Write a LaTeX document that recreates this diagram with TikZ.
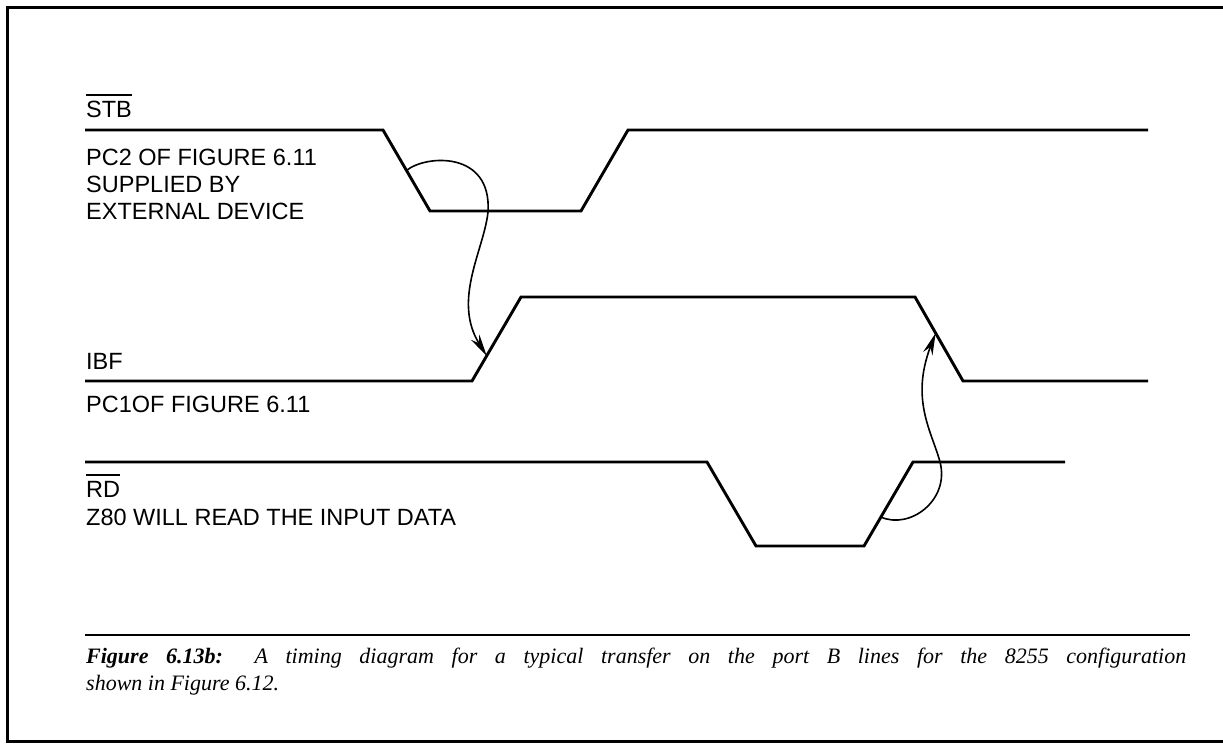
\documentclass[tikz,border=0pt]{standalone}
\usepackage{fontspec}
\setmainfont{Liberation Serif}
\newfontfamily\labfont{Liberation Sans}
\usetikzlibrary{arrows.meta,calc}
\newcommand\ovl[1]{\vbox{\hrule height 1.4pt\kern 5pt\hbox{#1}}}
\begin{document}
\begin{tikzpicture}[x=1pt,y=-1pt,
  sig/.style={line width=2.9pt, line join=miter},
  lbl/.style={font=\labfont\fontsize{23.5}{27}\selectfont, inner sep=0pt, anchor=base west},
  captxt/.style={font=\itshape\fontsize{22}{27}\selectfont, inner sep=0pt, anchor=base west},
  arr/.style={line width=1.6pt, -{Stealth[length=22pt,width=10pt]}}]
\useasboundingbox (0,0) rectangle (1223,744);
\fill[white] (0,0) rectangle (1223,744);
% frame
\draw[line width=3pt] (1223,7) -- (7,7) -- (7,741) -- (1223,741);
\draw[line width=2pt] (85,635) -- (1190,635);
% STB
\coordinate (s0) at (85,130);
\coordinate (s1) at (383,130);
\coordinate (s2) at (430,211);
\coordinate (s3) at (581,211);
\coordinate (s4) at (628,130);
\coordinate (s5) at (1148,130);
\draw[sig] (s0) -- (s1) -- (s2) -- (s3) -- (s4) -- (s5);
% IBF
\coordinate (i0) at (85,381);
\coordinate (i1) at (472,381);
\coordinate (i2) at (521,297);
\coordinate (i3) at (915,297);
\coordinate (i4) at (963,381);
\coordinate (i5) at (1148,381);
\draw[sig] (i0) -- (i1) -- (i2) -- (i3) -- (i4) -- (i5);
% RD
\coordinate (r0) at (85,462);
\coordinate (r1) at (707,462);
\coordinate (r2) at (756,546);
\coordinate (r3) at (864,546);
\coordinate (r4) at (913,462);
\coordinate (r5) at (1065,462);
\draw[sig] (r0) -- (r1) -- (r2) -- (r3) -- (r4) -- (r5);
% arrows
\coordinate (a1s) at ($(s1)!0.5!(s2)$);
\coordinate (a1e) at ($(i1)!0.3!(i2)$);
\coordinate (a2s) at ($(r3)!0.345!(r4)$);
\coordinate (a2e) at ($(i3)!0.43!(i4)$);
\draw[arr] (a1s) .. controls (425,155) and (492,150) .. (488,212)
  .. controls (484,250) and (452,300) .. (a1e);
\draw[arr] (a2s) .. controls (910,530) and (950,500) .. (940,462)
  .. controls (932,432) and (910,400) .. (a2e);
% labels
\node[lbl] (stb) at (86,117) {\ovl{STB}};
\node[lbl] (pc2) at (86,165) {PC2 OF FIGURE 6.11};
\node[lbl] (sup) at (86,192) {SUPPLIED BY};
\node[lbl] (ext) at (86,219) {EXTERNAL DEVICE};
\node[lbl] (ibf) at (86,369) {IBF};
\node[lbl] (pc1) at (86,412) {PC1OF FIGURE 6.11};
\node[lbl] (rd) at (86,497) {\ovl{RD}};
\node[lbl] (z80) at (86,525) {Z80 WILL READ THE INPUT DATA};
% caption
\node[captxt] (c1) at (86,663) {\makebox[1100pt][s]{\textbf{Figure 6.13b:} A timing diagram for a typical transfer on the port B lines for the 8255 configuration}};
\node[captxt] (c2) at (86,690) {shown in Figure 6.12.};
\end{tikzpicture}
\end{document}
